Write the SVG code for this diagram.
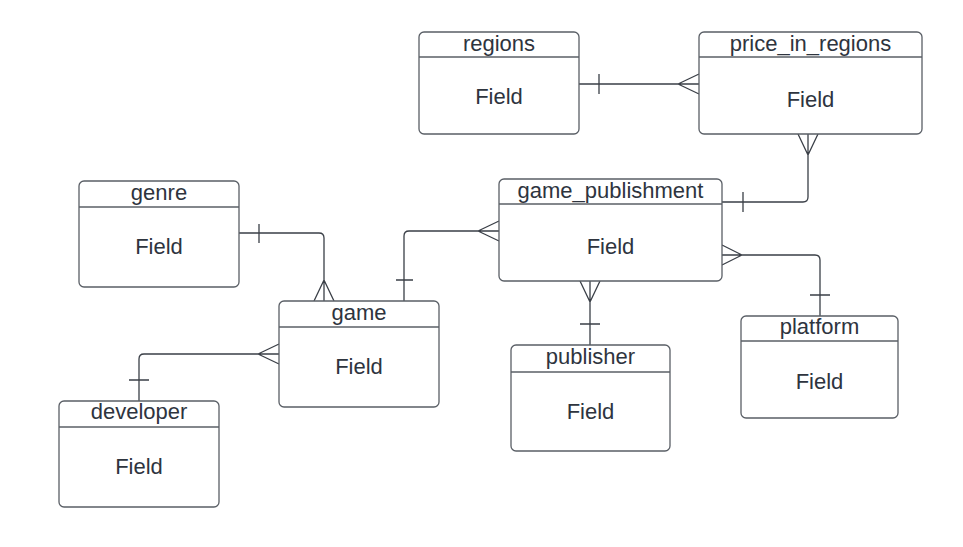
<svg xmlns="http://www.w3.org/2000/svg" width="963" height="547" viewBox="0 0 963 547">
<style>
.box{fill:#ffffff;stroke:#5a5f66;stroke-width:1.3}
.div{stroke:#5a5f66;stroke-width:1.3}
.t{font-family:"Liberation Sans",Arial,sans-serif;font-size:22px;fill:#2e343e;text-anchor:middle}
.c{fill:none;stroke:#3a3f47;stroke-width:1.3}
</style>
<rect width="963" height="547" fill="#ffffff"/>
<g id="connectors">
  <!-- regions - price_in_regions -->
  <path class="c" d="M579,84 H699 M599,74 V94 M678,84 L699,74 M678,84 L699,94"/>
  <!-- price_in_regions - game_publishment -->
  <path class="c" d="M808,134 V197 Q808,202 803,202 H722 M743,192 V212 M808,155 L798,134 M808,155 L818,134"/>
  <!-- game_publishment - game -->
  <path class="c" d="M404,301 V236 Q404,231 409,231 H499 M396,280 H413 M478,231 L499,221 M478,231 L499,241"/>
  <!-- genre - game -->
  <path class="c" d="M239,233 H319 Q324,233 324,238 V301 M259,224 V243 M324,280 L314,301 M324,280 L334,301"/>
  <!-- developer - game -->
  <path class="c" d="M279,354 H144 Q139,354 139,359 V401 M129,380 H149 M258,354 L279,344 M258,354 L279,364"/>
  <!-- game_publishment - publisher -->
  <path class="c" d="M590,281 V345 M590,302 L580,281 M590,302 L600,281 M580,324 H600"/>
  <!-- game_publishment - platform -->
  <path class="c" d="M722,255 H815 Q820,255 820,260 V316 M742,255 L722,245 M742,255 L722,265 M810,295 H830"/>
</g>
<g id="regions">
  <rect class="box" x="419" y="32" width="160" height="102" rx="5"/>
  <line class="div" x1="419" y1="57" x2="579" y2="57"/>
  <text class="t" x="499" y="51">regions</text>
  <text class="t" x="499" y="104">Field</text>
</g>
<g id="price_in_regions">
  <rect class="box" x="699" y="32" width="223" height="102" rx="5"/>
  <line class="div" x1="699" y1="57" x2="922" y2="57"/>
  <text class="t" x="810.5" y="51">price_in_regions</text>
  <text class="t" x="810.5" y="107">Field</text>
</g>
<g id="game_publishment">
  <rect class="box" x="499" y="179" width="223" height="102" rx="5"/>
  <line class="div" x1="499" y1="204" x2="722" y2="204"/>
  <text class="t" x="610.5" y="198">game_publishment</text>
  <text class="t" x="610.5" y="254">Field</text>
</g>
<g id="genre">
  <rect class="box" x="79" y="181" width="160" height="106" rx="5"/>
  <line class="div" x1="79" y1="207" x2="239" y2="207"/>
  <text class="t" x="159" y="200">genre</text>
  <text class="t" x="159" y="254">Field</text>
</g>
<g id="game">
  <rect class="box" x="279" y="301" width="160" height="106" rx="5"/>
  <line class="div" x1="279" y1="327" x2="439" y2="327"/>
  <text class="t" x="359" y="320">game</text>
  <text class="t" x="359" y="374">Field</text>
</g>
<g id="developer">
  <rect class="box" x="59" y="401" width="160" height="106" rx="5"/>
  <line class="div" x1="59" y1="427" x2="219" y2="427"/>
  <text class="t" x="139" y="419">developer</text>
  <text class="t" x="139" y="474">Field</text>
</g>
<g id="publisher">
  <rect class="box" x="511" y="345" width="159" height="106" rx="5"/>
  <line class="div" x1="511" y1="372" x2="670" y2="372"/>
  <text class="t" x="590.5" y="364">publisher</text>
  <text class="t" x="590.5" y="419">Field</text>
</g>
<g id="platform">
  <rect class="box" x="741" y="316" width="157" height="102" rx="5"/>
  <line class="div" x1="741" y1="341" x2="898" y2="341"/>
  <text class="t" x="819.5" y="334">platform</text>
  <text class="t" x="819.5" y="389">Field</text>
</g>
</svg>
